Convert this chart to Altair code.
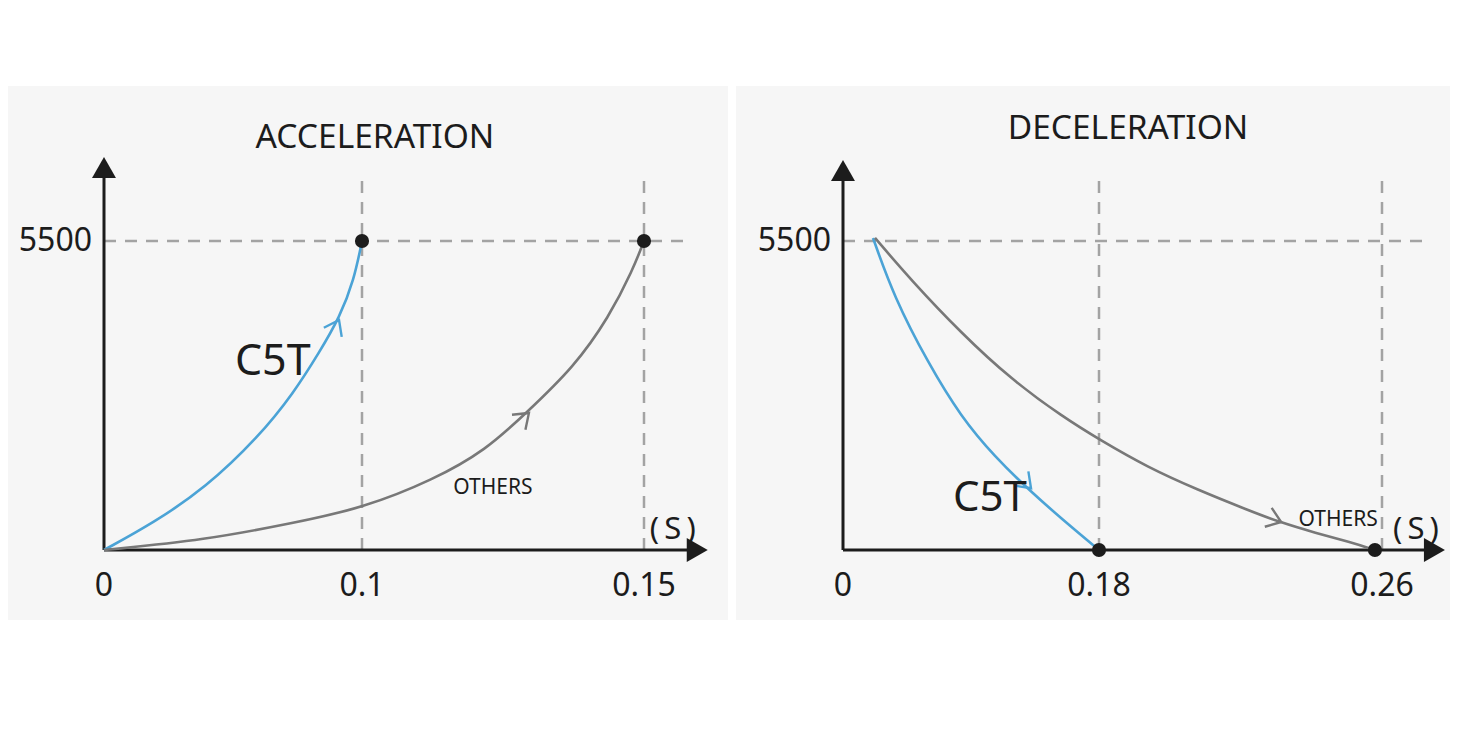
import altair as alt
import pandas as pd

BLUE = "#4ba3d6"
GREY = "#787878"
INK = "#1c1c1c"
DASH = "#a3a3a3"
PANEL = "#f6f6f6"
FONT = "Noto Sans"

PANEL_H = 534
RPM_TOP = 5500

# ---- acceleration panel ----
acc_ticks = [0, 0.1, 0.15]
acc_tick_labels = ["0", "0.1", "0.15"]

acc_c5t_t = [0, 0.0191, 0.0393, 0.0599, 0.0735, 0.0833, 0.0914, 0.0969, 0.1]
acc_c5t_rpm = [0, 481, 1104, 2011, 2795, 3507, 4147, 4806, 5500]

acc_oth_t = [0, 0.0393, 0.0735, 0.1002, 0.1126, 0.1220, 0.1291, 0.1376, 0.1438, 0.1480, 0.15]
acc_oth_rpm = [0, 178, 481, 748, 1246, 1780, 2439, 3257, 4147, 4984, 5500]

acc_dots_t = [0.1, 0.15]
acc_dots_rpm = [5500, 5500]

acc_arrow_t = [0.0911, 0.1296]
acc_arrow_rpm = [4094, 2439]
acc_arrow_angle = [297, 318]
acc_arrow_series = ["C5T", "OTHERS"]

# ---- deceleration panel ----
dec_ticks = [0, 0.18, 0.26]
dec_tick_labels = ["0", "0.18", "0.26"]

dec_c5t_t = [0.0211, 0.0359, 0.0598, 0.0830, 0.1069, 0.1308, 0.1547, 0.18]
dec_c5t_rpm = [5554, 4503, 3329, 2367, 1655, 1068, 534, 0]

dec_oth_t = [0.0225, 0.0478, 0.0830, 0.1188, 0.1547, 0.1803, 0.1936, 0.2080,
             0.2221, 0.2309, 0.2413, 0.2509, 0.258]
dec_oth_rpm = [5554, 4806, 3863, 3026, 2367, 1958, 1477, 1068, 712, 498, 303, 142, 0]

dec_dots_t = [0.18, 0.258]
dec_dots_rpm = [0, 0]

dec_arrow_t = [0.1322, 0.2315]
dec_arrow_rpm = [1100, 498]
dec_arrow_angle = [45, 20]
dec_arrow_series = ["C5T", "OTHERS"]

# open chevron pointing right, tip at origin; filled triangle pointing up
CHEVRON = "M-0.81,-0.59L0,0L-0.81,0.59"
HEAD = "M0,0L-0.57,1L0.57,1Z"


def panel(ticks, tick_px, tick_labels, c5t, others, dots, arrows,
          notes, x_tip, y_tip, guide_end, width):
    xs = alt.Scale(domain=ticks, range=tick_px, nice=False, zero=False)
    ys = alt.Scale(domain=[0, RPM_TOP], range=[464, 155], nice=False, zero=False)
    X = lambda f: alt.X(f, scale=xs, axis=None)
    Y = lambda f: alt.Y(f, scale=ys, axis=None)
    series_scale = alt.Scale(domain=["C5T", "OTHERS"], range=[BLUE, GREY])

    curves = pd.concat([
        pd.DataFrame({"t": c5t[0], "rpm": c5t[1], "series": "C5T"}),
        pd.DataFrame({"t": others[0], "rpm": others[1], "series": "OTHERS"}),
    ])
    guides = pd.DataFrame({
        "x": [0] + ticks[1:],
        "x2": [guide_end] + ticks[1:],
        "y": [RPM_TOP, 0, 0],
        "y2": [RPM_TOP, y_tip * 0.955, y_tip * 0.955],
    })
    axes = pd.DataFrame({
        "x": [0, 0], "x2": [0, x_tip - 0.003 * (ticks[2] / 0.15)],
        "y": [0, 0], "y2": [y_tip * 0.95, 0],
    })
    heads = pd.DataFrame({"x": [0, x_tip], "y": [y_tip, 0], "angle": [0, 90]})
    tick_df = pd.DataFrame({"t": ticks, "label": tick_labels})
    arrow_df = pd.DataFrame({"t": arrows[0], "rpm": arrows[1], "angle": arrows[2], "series": arrows[3]})
    dot_df = pd.DataFrame({"t": dots[0], "rpm": dots[1]})
    note_df = pd.DataFrame(notes, columns=["text", "t", "rpm", "fs"])

    # grey panel background filling the whole view
    bg_layer = alt.Chart(pd.DataFrame({"k": [0]})).mark_rect(color=PANEL, strokeWidth=0).encode(
        x=alt.value(0), x2=alt.value("width"), y=alt.value(0), y2=alt.value("height"))
    guide_layer = alt.Chart(guides).mark_rule(color=DASH, strokeWidth=2.5, strokeDash=[12, 9]).encode(
        x=X("x:Q"), x2="x2:Q", y=Y("y:Q"), y2="y2:Q")
    axis_layer = alt.Chart(axes).mark_rule(color=INK, strokeWidth=3).encode(
        x=X("x:Q"), x2="x2:Q", y=Y("y:Q"), y2="y2:Q")
    head_layer = alt.Chart(heads).mark_point(shape=HEAD, filled=True, color=INK, size=1764, opacity=1).encode(
        x=X("x:Q"), y=Y("y:Q"), angle=alt.Angle("angle:Q", scale=None))
    curve_layer = alt.Chart(curves).mark_line(strokeWidth=2.6, interpolate="basis").encode(
        x=X("t:Q"), y=Y("rpm:Q"),
        color=alt.Color("series:N", scale=series_scale, legend=None), detail="series:N")
    arrow_layer = alt.Chart(arrow_df).mark_point(shape=CHEVRON, filled=False, size=1156, strokeWidth=2.4, opacity=1).encode(
        x=X("t:Q"), y=Y("rpm:Q"), angle=alt.Angle("angle:Q", scale=None),
        stroke=alt.Stroke("series:N", scale=series_scale, legend=None))
    dot_layer = alt.Chart(dot_df).mark_circle(color=INK, size=200, opacity=1).encode(
        x=X("t:Q"), y=Y("rpm:Q"))
    xlab_layer = alt.Chart(tick_df).mark_text(font=FONT, fontSize=32, color=INK, dy=36, baseline="middle").encode(
        x=X("t:Q"), y=Y("zero:Q"), text="label:N").transform_calculate(zero="0")
    ylab_layer = alt.Chart(pd.DataFrame({"t": [0], "rpm": [RPM_TOP], "label": ["5500"]})).mark_text(
        font=FONT, fontSize=32, color=INK, dx=-12, align="right", baseline="middle").encode(
        x=X("t:Q"), y=Y("rpm:Q"), text="label:N")
    note_layer = alt.Chart(note_df).mark_text(font=FONT, color=INK, baseline="middle").encode(
        x=X("t:Q"), y=Y("rpm:Q"), text="text:N", size=alt.Size("fs:Q", scale=None, legend=None))

    return alt.layer(
        bg_layer, guide_layer, axis_layer, head_layer, curve_layer, arrow_layer,
        dot_layer, xlab_layer, ylab_layer, note_layer,
    ).properties(width=width, height=PANEL_H)


acc_notes = [
    ["ACCELERATION", 0.1023, 7334, 33.5],
    ["C5T", 0.0654, 3346, 43],
    ["OTHERS", 0.1232, 1104, 21],
    ["(\u2009S\u2009)", 0.1551, 356, 31],
]
dec_notes = [
    ["DECELERATION", 0.1882, 7494, 33.5],
    ["C5T", 0.1033, 926, 42],
    ["OTHERS", 0.2476, 534, 21],
    ["(\u2009S\u2009)", 0.2696, 356, 31],
]

left = panel(
    acc_ticks, [96, 354, 636], acc_tick_labels,
    (acc_c5t_t, acc_c5t_rpm), (acc_oth_t, acc_oth_rpm),
    (acc_dots_t, acc_dots_rpm),
    (acc_arrow_t, acc_arrow_rpm, acc_arrow_angle, acc_arrow_series),
    acc_notes, x_tip=0.1613, y_tip=6995, guide_end=0.158, width=720,
)
right = panel(
    dec_ticks, [107, 363, 646], dec_tick_labels,
    (dec_c5t_t, dec_c5t_rpm), (dec_oth_t, dec_oth_rpm),
    (dec_dots_t, dec_dots_rpm),
    (dec_arrow_t, dec_arrow_rpm, dec_arrow_angle, dec_arrow_series),
    dec_notes, x_tip=0.2778, y_tip=6942, guide_end=0.273, width=714,
)

chart = (
    alt.hconcat(left, right, spacing=8)
    .resolve_scale(x="independent", y="independent", color="independent", stroke="independent")
    .properties(padding={"left": 0, "top": 78, "right": 0, "bottom": 0})
    .configure_view(stroke="transparent", strokeWidth=0, strokeOpacity=0)
    .configure(background="white", style={"cell": {"stroke": "transparent", "strokeWidth": 0}})
)

chart.save("out.html", embed_options={"renderer": "svg", "actions": False})
